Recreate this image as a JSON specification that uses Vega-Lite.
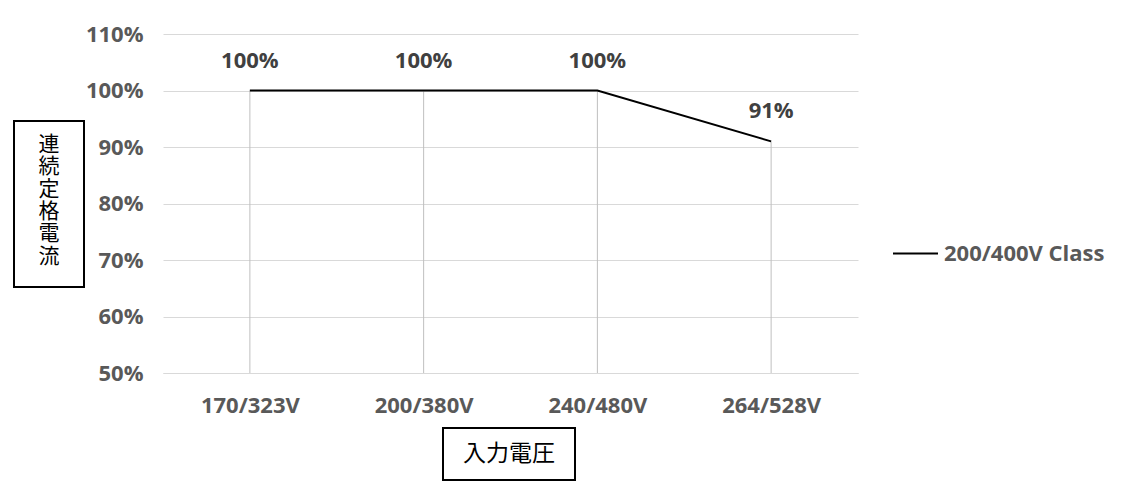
{
  "$schema": "https://vega.github.io/schema/vega-lite/v6.json",
  "background": "white",
  "padding": {"left": 13, "top": 23, "right": 0, "bottom": 0},
  "config": {
    "view": {"stroke": null},
    "font": "Open Sans"
  },
  "datasets": {
    "main": [
      {"voltage": "170/323V", "current": 1.00, "series": "200/400V Class"},
      {"voltage": "200/380V", "current": 1.00, "series": "200/400V Class"},
      {"voltage": "240/480V", "current": 1.00, "series": "200/400V Class"},
      {"voltage": "264/528V", "current": 0.91, "series": "200/400V Class"}
    ],
    "ytitle": [{"label": "連\n続\n定\n格\n電\n流"}],
    "xtitle": [{"label": "入力電圧"}],
    "empty": []
  },
  "spacing": 0,
  "hconcat": [
    {
      "spacing": 0,
      "vconcat": [
        {
          "data": {"name": "empty"},
          "width": 70,
          "height": 86,
          "mark": "point"
        },
        {
          "data": {"name": "ytitle"},
          "width": 70,
          "height": 166,
          "view": {"stroke": "#000000", "strokeWidth": 2},
          "mark": {"type": "text", "font": "Noto Sans CJK JP", "fontSize": 21, "lineHeight": 22.3, "lineBreak": "\n", "color": "#000000", "align": "center", "baseline": "middle", "dy": -59},
          "encoding": {"text": {"field": "label", "type": "nominal"}}
        }
      ]
    },
    {
      "spacing": 11,
      "vconcat": [
        {
          "data": {"name": "main"},
          "width": 695,
          "height": 339,
          "encoding": {
            "x": {
              "field": "voltage", "type": "nominal", "sort": null,
              "scale": {"type": "point", "padding": 0.5},
              "axis": {"title": null, "labelAngle": 0, "ticks": false, "domain": true, "domainColor": "#d9d9d9", "domainWidth": 1, "labelPadding": 22, "labelFont": "Open Sans", "labelFontSize": 22, "labelFontWeight": "bold", "labelColor": "#595959", "grid": false}
            },
            "y": {
              "field": "current", "type": "quantitative",
              "scale": {"domain": [0.5, 1.1], "nice": false, "zero": false},
              "axis": {"title": null, "values": [0.5, 0.6, 0.7, 0.8, 0.9, 1.0, 1.1], "format": ".0%", "domain": false, "ticks": false, "grid": true, "gridColor": "#d9d9d9", "gridWidth": 1, "labelPadding": 20, "labelFont": "Open Sans", "labelFontSize": 22, "labelFontWeight": "bold", "labelColor": "#595959"}
            }
          },
          "layer": [
            {
              "mark": {"type": "rule", "color": "#bfbfbf", "strokeWidth": 1},
              "encoding": {"y2": {"datum": 0.5}}
            },
            {
              "mark": {"type": "line", "strokeWidth": 2},
              "encoding": {
                "color": {
                  "field": "series", "type": "nominal",
                  "scale": {"range": ["#000000"]},
                  "legend": {"orient": "none", "legendX": 878, "legendY": 196, "title": null, "symbolType": "stroke", "symbolSize": 2025, "symbolStrokeWidth": 2, "labelFont": "Open Sans", "labelFontSize": 22, "labelFontWeight": "bold", "labelColor": "#595959", "labelLimit": 400, "padding": 0, "labelOffset": 5}
                }
              }
            },
            {
              "mark": {"type": "text", "dy": -30, "fontWeight": "bold", "fontSize": 22, "font": "Open Sans", "color": "#404040"},
              "encoding": {"text": {"field": "current", "type": "quantitative", "format": ".0%"}}
            }
          ]
        },
        {
          "spacing": 0,
          "hconcat": [
            {
              "data": {"name": "empty"},
              "width": 279,
              "height": 52,
              "mark": "point"
            },
            {
              "data": {"name": "xtitle"},
              "width": 132,
              "height": 52,
              "view": {"stroke": "#000000", "strokeWidth": 2},
              "mark": {"type": "text", "font": "Noto Sans CJK JP", "fontSize": 23, "color": "#000000", "align": "center", "baseline": "middle"},
              "encoding": {"text": {"field": "label", "type": "nominal"}}
            }
          ]
        }
      ]
    }
  ]
}
